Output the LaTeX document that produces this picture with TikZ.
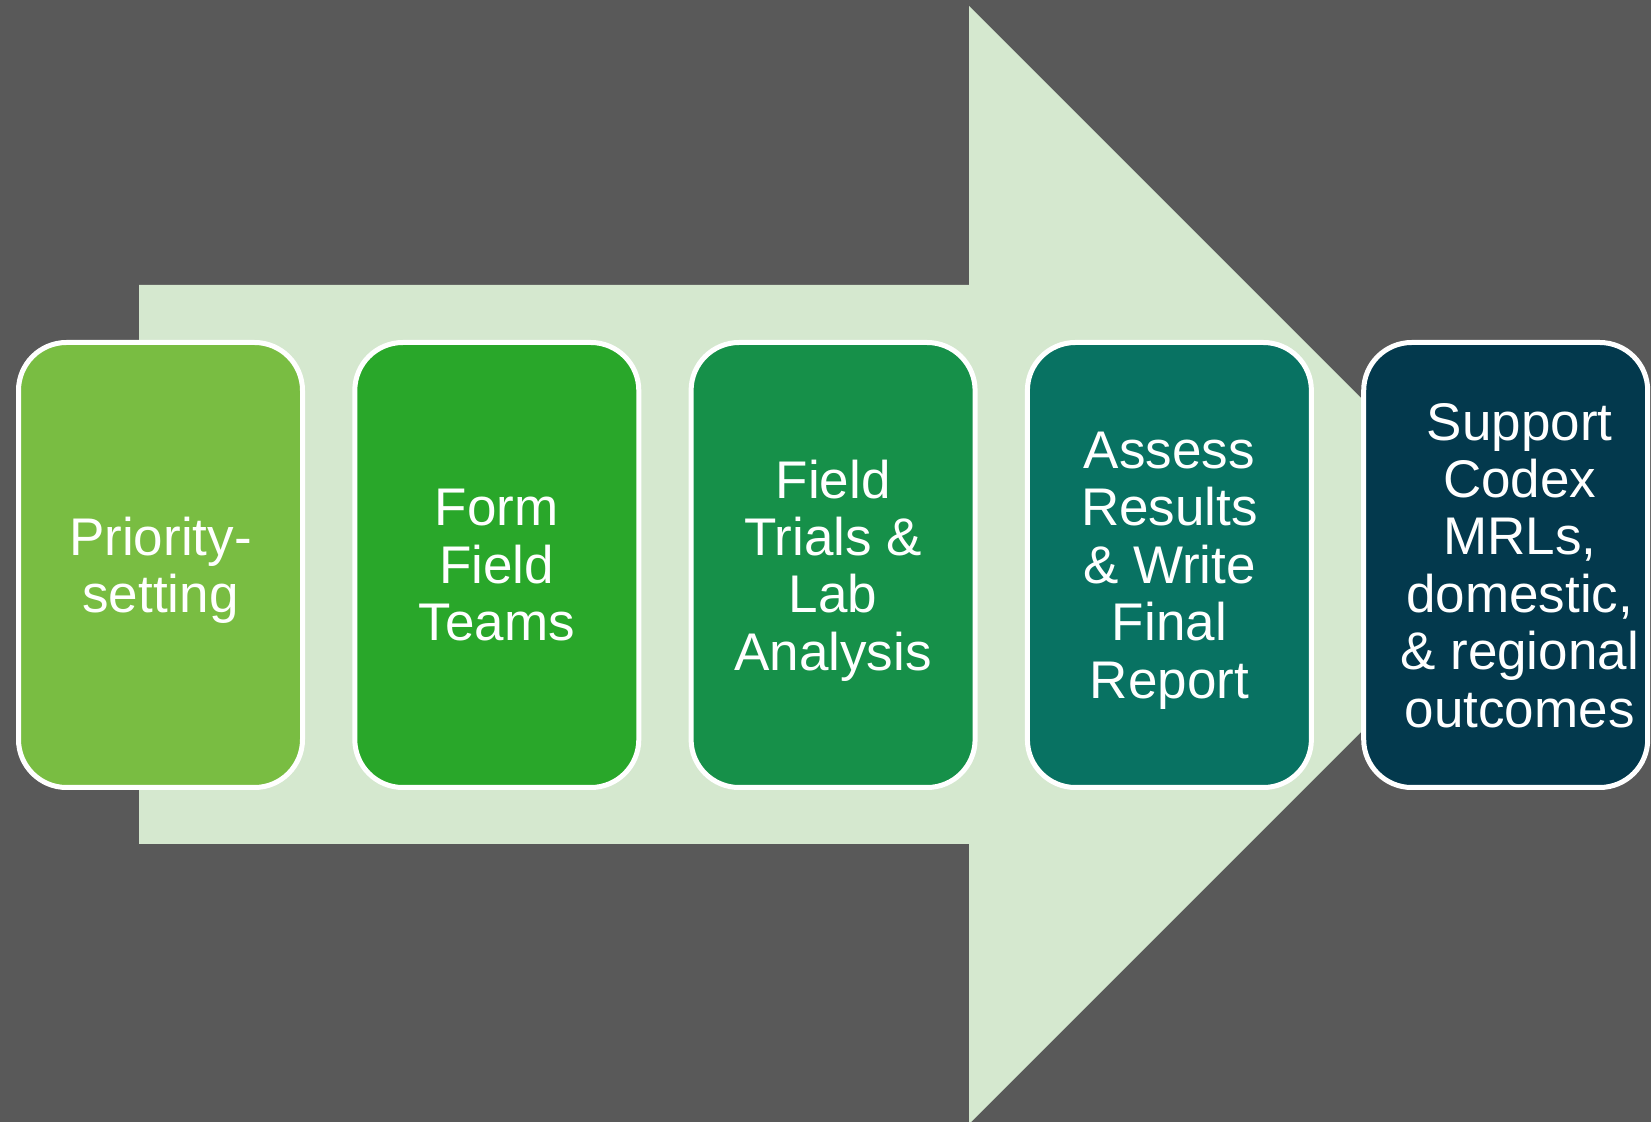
\documentclass[tikz,border=0pt]{standalone}
\usepackage{fontspec}
\setmainfont{Liberation Sans}
\usetikzlibrary{positioning}

\definecolor{bgGrey}{HTML}{595959}
\definecolor{arrowGreen}{HTML}{D5E8CF}
\definecolor{stepA}{HTML}{79BD42}
\definecolor{stepB}{HTML}{29A72A}
\definecolor{stepC}{HTML}{169049}
\definecolor{stepD}{HTML}{087262}
\definecolor{stepE}{HTML}{03394D}

\tikzset{
  stepbox/.style={draw=white, line width=2.5pt, rounded corners=24pt,
    minimum width=142pt, minimum height=222.5pt, inner sep=0pt},
  steptext/.style={text=white, align=center, text depth=0pt,
    font=\fontsize{26.5}{28.7}\selectfont}
}

\begin{document}
\begin{tikzpicture}[x=0.5pt, y=-0.5pt]
        % background
        \useasboundingbox (0,0) rectangle (1651,1122);
        \fill[bgGrey] (0,0) rectangle (1651,1122);
        % draw big arrow
        \fill[arrowGreen] (139,285) -- (969,285) -- (969,6) -- (1528,565)
          -- (969,1124) -- (969,844) -- (139,844) -- cycle;
        % draw steps
        \node[stepbox, fill=stepA, steptext] (s1) at (160.5,565) {Priority-\\setting};
        \node[stepbox, fill=stepB, steptext, right=23.65pt of s1] (s2) {Form\\Field\\Teams};
        \node[stepbox, fill=stepC, steptext, right=23.65pt of s2] (s3) {Field\\Trials \&\\Lab\\Analysis};
        \node[stepbox, fill=stepD, steptext, right=23.65pt of s3] (s4) {Assess\\Results\\\& Write\\Final\\Report};
        \node[stepbox, fill=stepE, right=23.65pt of s4] (s5) {};
        \node[steptext] (t5) at ([xshift=7pt]s5.center) {Support\\Codex\\MRLs,\\domestic,\\\& regional\\outcomes};
      \end{tikzpicture}
\end{document}
